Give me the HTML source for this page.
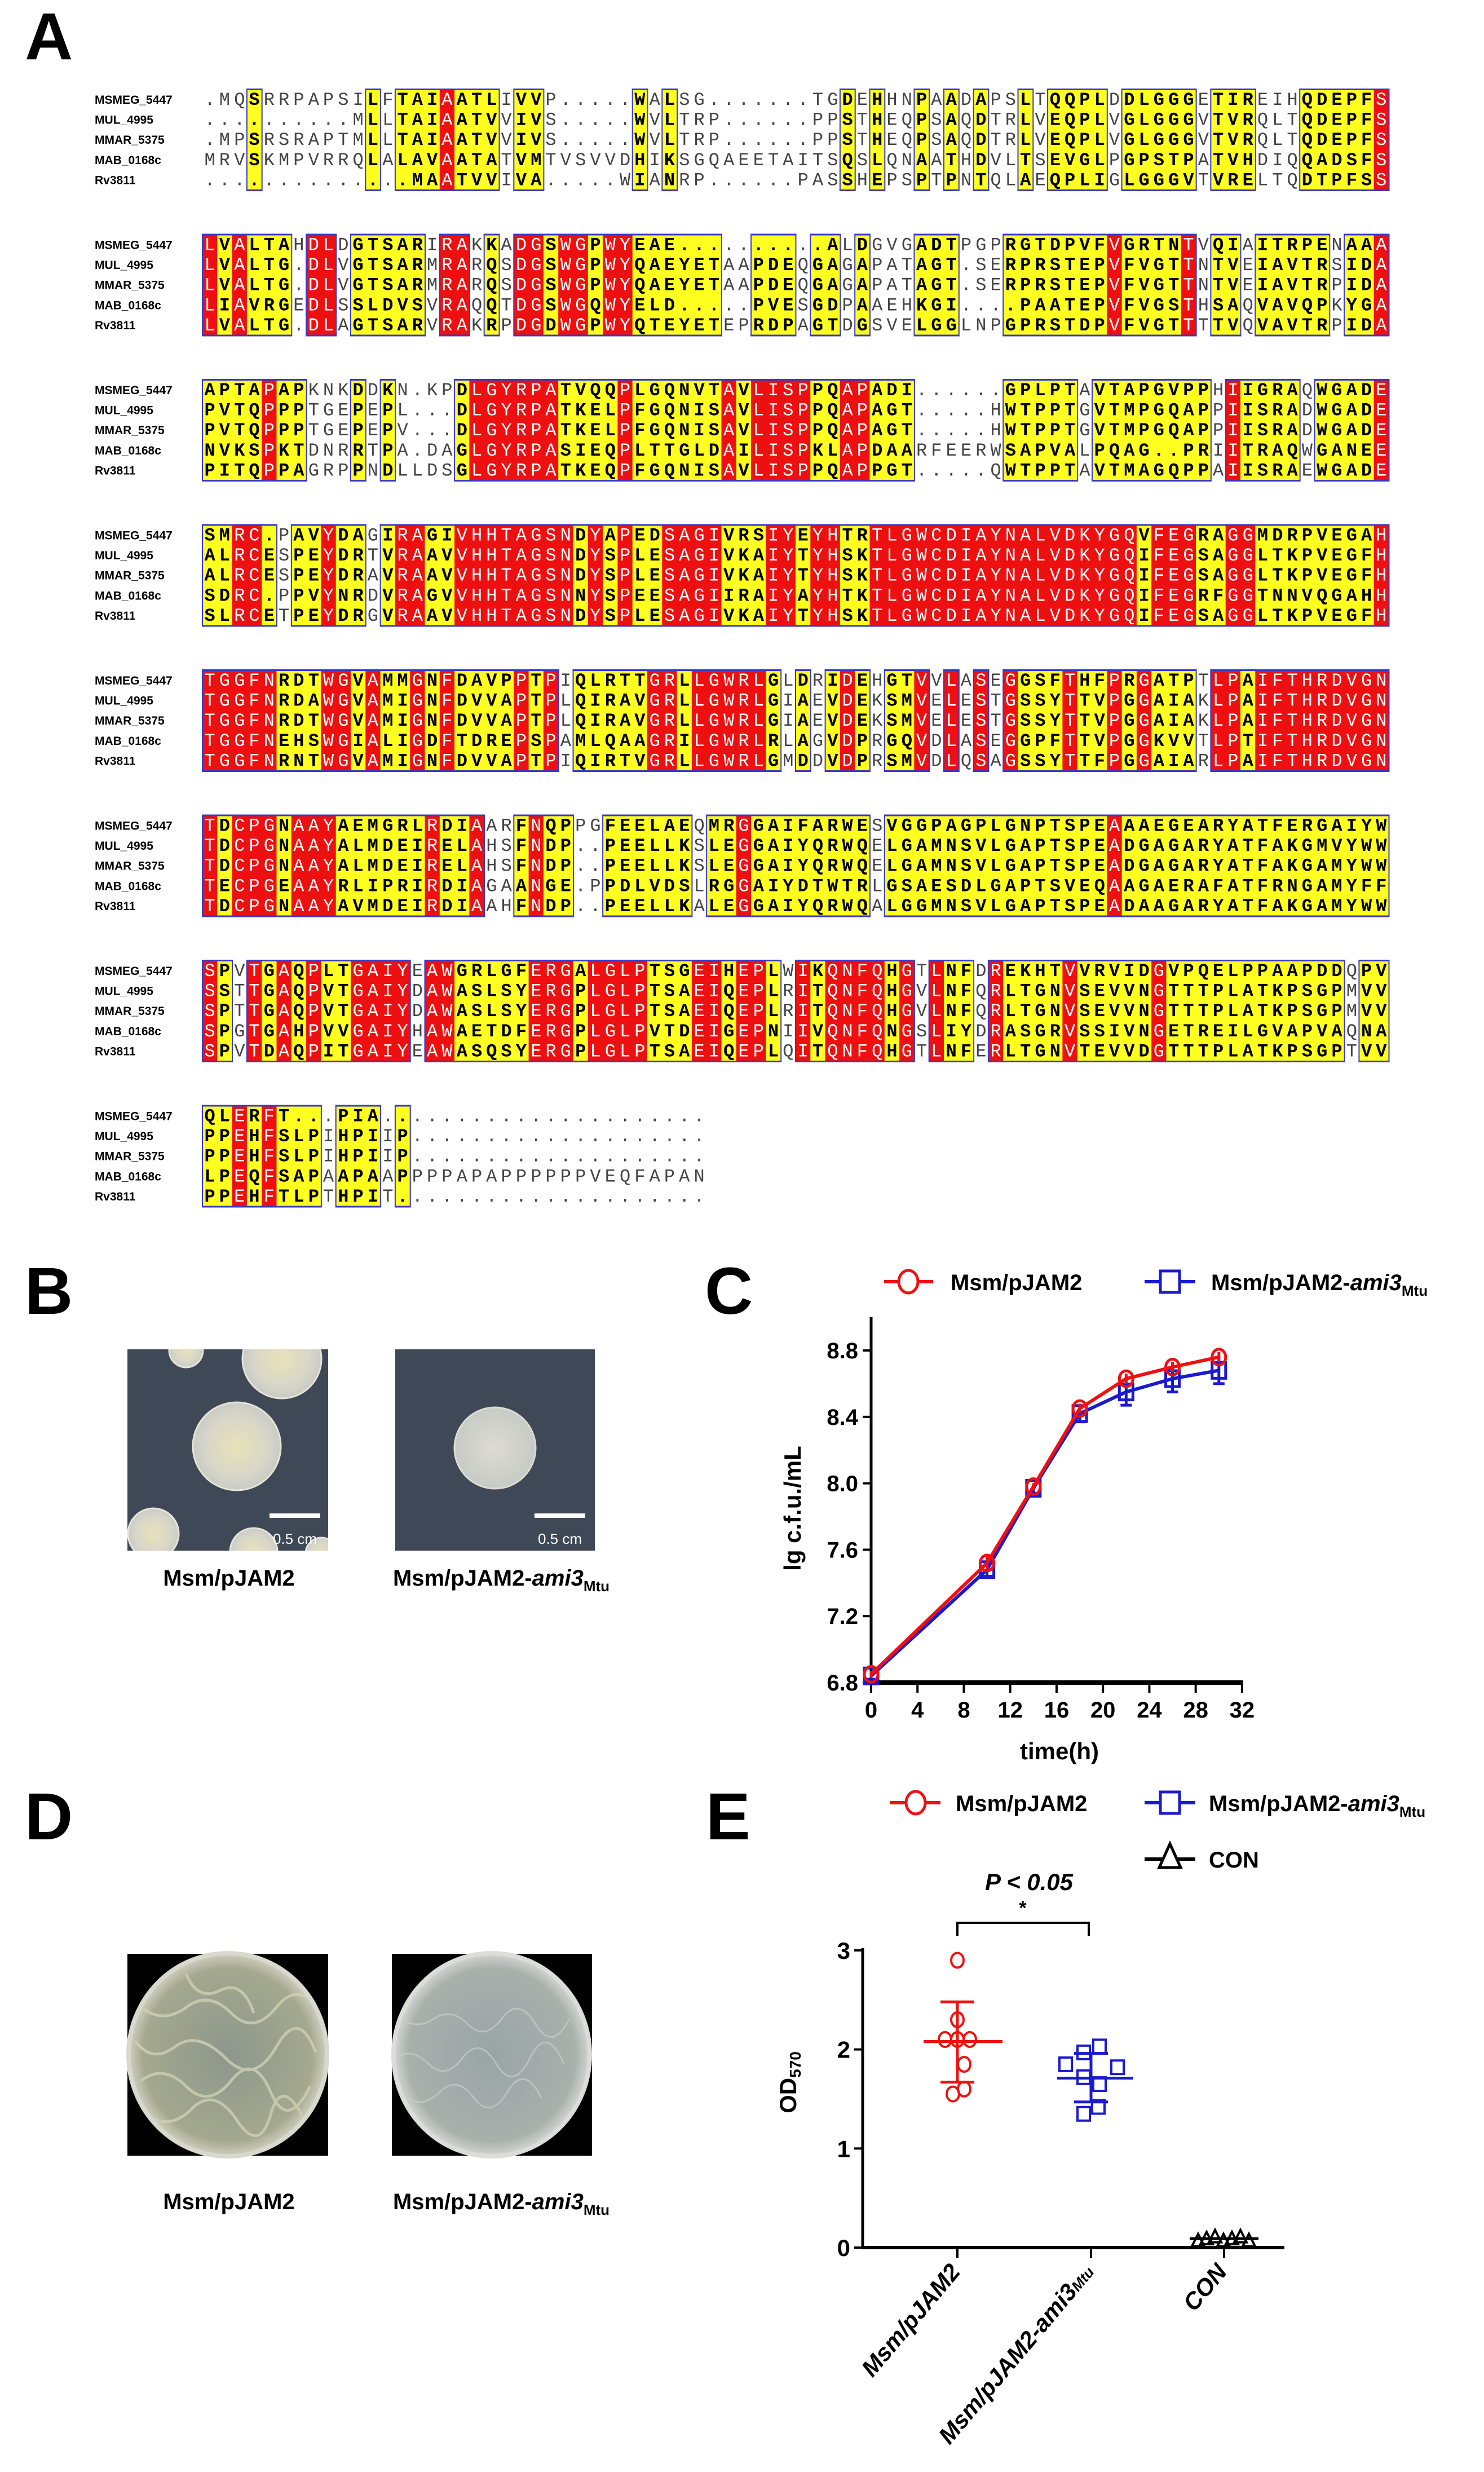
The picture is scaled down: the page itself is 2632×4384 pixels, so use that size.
<!DOCTYPE html>
<html><head><meta charset="utf-8">
<style>
html,body{margin:0;padding:0;background:#fff;}
svg{display:block;}
</style></head>
<body>
<svg id="s" xmlns="http://www.w3.org/2000/svg" width="2632" height="4384" viewBox="0 0 2632 4384" font-family="Liberation Sans, Arial, sans-serif">
<defs>
<radialGradient id="col1" cx="50%" cy="50%" r="50%"><stop offset="0" stop-color="#e8e2b8"/><stop offset="0.7" stop-color="#d8d6c8"/><stop offset="1" stop-color="#c9cbc6"/></radialGradient>
<radialGradient id="col2" cx="50%" cy="50%" r="50%"><stop offset="0" stop-color="#dcdcd0"/><stop offset="1" stop-color="#c8cac6"/></radialGradient>
<radialGradient id="dish1" cx="50%" cy="50%" r="50%"><stop offset="0" stop-color="#8d978c"/><stop offset="0.85" stop-color="#a4a88e"/><stop offset="1" stop-color="#cfcfc0"/></radialGradient>
<radialGradient id="dish2" cx="50%" cy="50%" r="50%"><stop offset="0" stop-color="#99a4a4"/><stop offset="0.85" stop-color="#a8b0ac"/><stop offset="1" stop-color="#d4d6d2"/></radialGradient>
<clipPath id="cb1"><rect x="226" y="2393" width="356" height="357"/></clipPath>
<clipPath id="cb2"><rect x="701" y="2393" width="354" height="357"/></clipPath>
<clipPath id="cd1"><ellipse cx="404" cy="3644" rx="172" ry="176"/></clipPath>
<clipPath id="cd2"><ellipse cx="872" cy="3644" rx="170" ry="176"/></clipPath>
</defs>
<g id="aln"></g>

<text x="44" y="105" font-size="118" font-weight="bold">A</text>
<text x="44" y="2330" font-size="118" font-weight="bold">B</text>
<text x="1250" y="2330" font-size="118" font-weight="bold">C</text>
<text x="44" y="3262" font-size="118" font-weight="bold">D</text>
<text x="1252" y="3262" font-size="118" font-weight="bold">E</text>

<rect x="226" y="2393" width="356" height="357" fill="#3e4857"/>
<g fill="url(#col1)" stroke="#e6e4d8" stroke-width="3" clip-path="url(#cb1)">
<circle cx="420" cy="2565" r="78"/>
<circle cx="500" cy="2410" r="70"/>
<circle cx="330" cy="2395" r="30"/>
<circle cx="272" cy="2720" r="45"/>
<circle cx="450" cy="2752" r="42"/>
<circle cx="570" cy="2755" r="28"/>
</g>
<rect x="478" y="2684" width="90" height="8" fill="#fff"/>
<text x="523" y="2738" font-size="26" fill="#fff" text-anchor="middle">0.5 cm</text>
<rect x="701" y="2393" width="354" height="357" fill="#3e4857"/>
<circle cx="878" cy="2568" r="72" fill="url(#col2)" stroke="#dcdcd2" stroke-width="3" clip-path="url(#cb2)"/>
<rect x="948" y="2684" width="90" height="8" fill="#fff"/>
<text x="993" y="2738" font-size="26" fill="#fff" text-anchor="middle">0.5 cm</text>
<text x="406" y="2812" font-size="40" font-weight="bold" text-anchor="middle">Msm/pJAM2</text>
<text x="889" y="2812" font-size="40" font-weight="bold" text-anchor="middle">Msm/pJAM2-<tspan font-style="italic">ami3</tspan><tspan font-size="26" dy="10">Mtu</tspan></text>

<g id="chartC"></g>

<rect x="226" y="3465" width="356" height="358" fill="#000"/>
<ellipse cx="404" cy="3644" rx="176" ry="180" fill="url(#dish1)" stroke="#d8d8cc" stroke-width="8"/>
<g stroke="#cfd0b4" stroke-width="5" fill="none" opacity="0.8" clip-path="url(#cd1)">
<path d="M250 3560 q40 30 80 0 t80 10 t80 -10 t80 10"/>
<path d="M240 3620 q30 40 70 10 t90 20 t90 -20 t70 10"/>
<path d="M250 3690 q40 -30 80 10 t80 -10 t70 20 t70 -10"/>
<path d="M260 3750 q40 30 80 -10 t80 20 t60 -10 t60 10"/>
<path d="M330 3500 q20 50 60 30 t60 40"/>
</g>
<rect x="695" y="3465" width="355" height="358" fill="#000"/>
<ellipse cx="872" cy="3644" rx="174" ry="180" fill="url(#dish2)" stroke="#dcdcd8" stroke-width="8"/>
<g stroke="#c6ccc8" stroke-width="3" fill="none" opacity="0.7" clip-path="url(#cd2)">
<path d="M710 3580 q30 20 60 0 t60 10 t60 -10 t60 10 t60 -10"/>
<path d="M700 3650 q30 -20 60 10 t60 -10 t60 10 t60 -10 t60 10"/>
<path d="M720 3720 q30 20 60 -10 t60 10 t60 -10 t60 10"/>
</g>
<text x="406" y="3918" font-size="40" font-weight="bold" text-anchor="middle">Msm/pJAM2</text>
<text x="889" y="3918" font-size="40" font-weight="bold" text-anchor="middle">Msm/pJAM2-<tspan font-style="italic">ami3</tspan><tspan font-size="26" dy="10">Mtu</tspan></text>

<g id="chartE"></g>
</svg>
<script>
(function(){
var NS="http://www.w3.org/2000/svg";
function el(parent,tag,attrs,txt){var e=document.createElementNS(NS,tag);for(var k in attrs)e.setAttribute(k,attrs[k]);if(txt!=null)e.textContent=txt;parent.appendChild(e);return e;}
var names=["MSMEG_5447","MUL_4995","MMAR_5375","MAB_0168c","Rv3811"];
var blocks=[
[".MQSRRPAPSILFTAIAATLIVVP.....WALSG.......TGDEHHNPAADAPSLTQQPLDDLGGGETIREIHQDEPFS",
"..........MLLTAIAATVVIVS.....WVLTRP......PPSTHEQPSAQDTRLVEQPLVGLGGGVTVRQLTQDEPFS",
".MPSRSRAPTMLLTAIAATVVIVS.....WVLTRP......PPSTHEQPSAQDTRLVEQPLVGLGGGVTVRQLTQDEPFS",
"MRVSKMPVRRQLALAVAATATVMTVSVVDHIKSGQAEETAITSQSLQNAATHDVLTSEVGLPGPSTPATVHDIQQADSFS",
"..............MAATVVIVA.....WIANRP......PASSHEPSPTPNTQLAEQPLIGLGGGVTVRELTQDTPFS"],
["LVALTAHDLDGTSARIRAKKADGSWGPWYEAE..........ALDGVGADTPGPRGTDPVFVGRTNTVQIAITRPENA",
"LVALTG.DLVGTSARMRARQSDGSWGPWYQAEYETAAPDEQGAGAPATAGT.SERPRSTEPVFVGTTNTVEIAVTRSIDA",
"LVALTG.DLVGTSARMRARQSDGSWGPWYQAEYETAAPDEQGAGAPATAGT.SERPRSTEPVFVGTTNTVEIAVTRPIDA",
"LIAVRGEDLSSLDVSVRAQQTDGSWGQWYELD.....PVESGDPAAEHKGI....PAATEPVFVGSTHSAQVAVQPKYGA",
"LVALTG.DLAGTSARVRAKRPDGDWGPWYQTEYETEPRDPAGTDGSVELGGLNPGPRSTDPVFVGTTTTVQVAVTRPIDA"],
["APTAPAPKNKDDKN.KPDLGYRPATVQQPLGQNVTAVLISPPQAPADI......GPLPTAVTAPGVPPHIIGRAQWGADE",
"PVTQPPPTGEPEPL...DLGYRPATKELPFGQNISAVLISPPQAPAGT.....HWTPPTGVTMPGQAPPIISRADWGADE",
"PVTQPPPTGEPEPV...DLGYRPATKELPFGQNISAVLISPPQAPAGT.....HWTPPTGVTMPGQAPPIISRADWGADE",
"NVKSPKTDNRRTPA.DAGLGYRPASIEQPLTTGLDAILISPKLAPDAARFEERWSAPVALPQAG..PRIITRAQWGANE",
"PITQPPAGRPPNDLLDSGLGYRPATKEQPFGQNISAVLISPPQAPPGT.....QWTPPTAVTMAGQPPAIISRAEWGADE"],
["SMRC.PAVYDAGIRAGIVHHTAGSNDYAPEDSAGIVRSIYEYHTRTLGWCDIAYNALVDKYGQVFEGRAGGMDRPVEGAH",
"ALRCESPEYDRTVRAAVVHHTAGSNDYSPLESAGIVKAIYTYHSKTLGWCDIAYNALVDKYGQIFEGSAGGLTKPVEGFH",
"ALRCESPEYDRAVRAAVVHHTAGSNDYSPLESAGIVKAIYTYHSKTLGWCDIAYNALVDKYGQIFEGSAGGLTKPVEGFH",
"SDRC.PPVYNRDVRAGVVHHTAGSNNYSPEESAGIIRAIYAYHTKTLGWCDIAYNALVDKYGQIFEGRFGGTNNVQGAH",
"SLRCETPEYDRGVRAAVVHHTAGSNDYSPLESAGIVKAIYTYHSKTLGWCDIAYNALVDKYGQIFEGSAGGLTKPVEGFH"],
["TGGFNRDTWGVAMMGNFDAVPPTPIQLRTTGRLLGWRLGLDRIDEHGTVVLASEGGSFTHFPRGATPTLPAIFTHRDVGN",
"TGGFNRDAWGVAMIGNFDVVAPTPLQIRAVGRLLGWRLGIAEVDEKSMVELESTGSSYTTVPGGAIAKLPAIFTHRDVGN",
"TGGFNRDTWGVAMIGNFDVVAPTPLQIRAVGRLLGWRLGIAEVDEKSMVELESTGSSYTTVPGGAIAKLPAIFTHRDVGN",
"TGGFNEHSWGIALIGDFTDREPSPAMLQAAGRILGWRLRLAGVDPRGQVDLASEGGPFTTVPGGKVVTLPTIFTHRDVGN",
"TGGFNRNTWGVAMIGNFDVVAPTPIQIRTVGRLLGWRLGMDDVDPRSMVDLQSAGSSYTTFPGGAIARLPAIFTHRDVGN"],
["TDCPGNAAYAEMGRLRDIAARFNQPPGFEELAEQMRGGAIFARWESVGGPAGPLGNPTSPEAAAEGEARYATFERGAIYW",
"TDCPGNAAYALMDEIRELAHSFNDP..PEELLKSLEGGAIYQRWQELGAMNSVLGAPTSPEADGAGARYATFAKGMVYW",
"TDCPGNAAYALMDEIRELAHSFNDP..PEELLKSLEGGAIYQRWQELGAMNSVLGAPTSPEADGAGARYATFAKGAMYW",
"TECPGEAAYRLIPRIRDIAGAANGE.PPDLVDSLRGGAIYDTWTRLGSAESDLGAPTSVEQAAGAERAFATFRNGAMYF",
"TDCPGNAAYAVMDEIRDIAAHFNDP..PEELLKALEGGAIYQRWQALGGMNSVLGAPTSPEADAAGARYATFAKGAMYW"],
["SPVTGAQPLTGAIYEAWGRLGFERGALGLPTSGEIHEPLWIKQNFQHGTLNFDREKHTVVRVIDGVPQELPPAAPDDQPV",
"SSTTGAQPVTGAIYDAWASLSYERGPLGLPTSAEIQEPLRITQNFQHGVLNFQRLTGNVSEVVNGTTTPLATKPSGPMV",
"SPTTGAQPVTGAIYDAWASLSYERGPLGLPTSAEIQEPLRITQNFQHGVLNFQRLTGNVSEVVNGTTTPLATKPSGPMV",
"SPGTGAHPVVGAIYHAWAETDFERGPLGLPVTDEIGEPNIIVQNFQNGSLIYDRASGRVSSIVNGETREILGVAPVAQNA",
"SPVTDAQPITGAIYEAWASQSYERGPLGLPTSAEIQEPLQITQNFQHGTLNFERLTGNVTEVVDGTTTPLATKPSGPTV"],
["QLERFT...PIA......................",
"PPEHFSLPIHPIIP....................",
"PPEHFSLPIHPIIP....................",
"LPEQFSAPAAPAAPPPPAPAPPPPPPVEQFAPAN",
"PPEHFTLPTHPIT....................."]
];
var g=document.getElementById("aln");
var X0=359, CW=26.3, RH=35.6;
for(var b=0;b<8;b++){
  var top=159+257.5*b;
  var N=(b==7)?34:80;
  var rows=blocks[b].map(function(s){while(s.length<N)s+=(s.length>0&&/[A-Z]/.test(s[s.length-1])&&b!=7)?s[s.length-1]:".";return s.substring(0,N);});
  var cls=[];
  for(var c=0;c<N;c++){
    var cnt={},mx=0;
    for(var r=0;r<5;r++){var ch=rows[r][c];if(ch==".")continue;cnt[ch]=(cnt[ch]||0)+1;if(cnt[ch]>mx)mx=cnt[ch];}
    cls.push(mx==5?"r":(mx>=3?"y":""));
  }
  for(var r=0;r<5;r++){
    el(g,"text",{x:168,y:(top+r*RH+25).toFixed(1),"font-size":21,"font-weight":"bold",fill:"#000"},names[r]);
  }
  for(var c=0;c<N;c++){
    var x=X0+c*CW;
    if(cls[c]){
      el(g,"rect",{x:x.toFixed(1),y:top.toFixed(1),width:(CW+0.6).toFixed(1),height:(5*RH).toFixed(1),fill:cls[c]=="r"?"#ee1010":"#ffff20"});
      el(g,"rect",{x:x.toFixed(1),y:(top-2).toFixed(1),width:(CW+0.6).toFixed(1),height:3,fill:"#3838c8"});
      el(g,"rect",{x:x.toFixed(1),y:(top+5*RH-1).toFixed(1),width:(CW+0.6).toFixed(1),height:3,fill:"#3838c8"});
      if(c==0||!cls[c-1])el(g,"rect",{x:(x-1).toFixed(1),y:(top-2).toFixed(1),width:2,height:(5*RH+4).toFixed(1),fill:"#3838c8"});
      if(c==N-1||!cls[c+1])el(g,"rect",{x:(x+CW-0.5).toFixed(1),y:(top-2).toFixed(1),width:2,height:(5*RH+4).toFixed(1),fill:"#3838c8"});
    }
  }
  for(var r=0;r<5;r++){
    for(var c=0;c<N;c++){
      var ch=rows[r][c];var k=cls[c];
      var a={x:(X0+c*CW+CW/2).toFixed(1),y:(top+r*RH+27).toFixed(1),"font-family":"Liberation Mono, monospace","font-size":32,"text-anchor":"middle"};
      if(k=="r"){a.fill="#fff";}
      else if(k=="y"){a.fill="#000";a["font-weight"]="bold";}
      else a.fill="#444";
      el(g,"text",a,ch);
    }
  }
}

var C=document.getElementById("chartC");
function cx(t){return 1545+t*20.56;}
function cy(v){return 2984-(v-6.8)/0.4*117.8;}
el(C,"line",{x1:1545,y1:2336,x2:1545,y2:2987,stroke:"#000","stroke-width":5});
el(C,"line",{x1:1543,y1:2984,x2:2205,y2:2984,stroke:"#000","stroke-width":8});
[6.8,7.2,7.6,8.0,8.4,8.8].forEach(function(v){el(C,"line",{x1:1530,y1:cy(v),x2:1545,y2:cy(v),stroke:"#000","stroke-width":4});
el(C,"text",{x:1522,y:cy(v)+14,"font-size":40,"font-weight":"bold","text-anchor":"end"},v.toFixed(1));});
for(var t=0;t<=32;t+=4){el(C,"line",{x1:cx(t),y1:2984,x2:cx(t),y2:3002,stroke:"#000","stroke-width":4});
el(C,"text",{x:cx(t),y:3046,"font-size":40,"font-weight":"bold","text-anchor":"middle"},String(t));}
el(C,"text",{x:1879,y:3120,"font-size":42,"font-weight":"bold","text-anchor":"middle"},"time(h)");
el(C,"text",{x:1420,y:2675,"font-size":42,"font-weight":"bold","text-anchor":"middle",transform:"rotate(-90 1420 2675)"},"lg c.f.u./mL");
var T=[0,10,14,18,22,26,30];
var R=[6.85,7.52,7.98,8.45,8.63,8.70,8.76];
var B=[6.84,7.48,7.97,8.42,8.55,8.63,8.68];
var Be=[0.02,0.04,0.03,0.05,0.08,0.08,0.08];
var Re=[0.02,0.04,0.02,0.03,0.03,0.03,0.03];
el(C,"polyline",{points:T.map(function(t,i){return cx(t)+","+cy(B[i]);}).join(" "),fill:"none",stroke:"#1a1ad0","stroke-width":6});
T.forEach(function(t,i){
 el(C,"line",{x1:cx(t),y1:cy(B[i]-Be[i]),x2:cx(t),y2:cy(B[i]+Be[i]),stroke:"#1a1ad0","stroke-width":5});
 el(C,"line",{x1:cx(t)-10,y1:cy(B[i]-Be[i]),x2:cx(t)+10,y2:cy(B[i]-Be[i]),stroke:"#1a1ad0","stroke-width":5});
 el(C,"rect",{x:cx(t)-12,y:cy(B[i])-14,width:24,height:28,fill:"none",stroke:"#1a1ad0","stroke-width":5});
});
el(C,"polyline",{points:T.map(function(t,i){return cx(t)+","+cy(R[i]);}).join(" "),fill:"none",stroke:"#ee1111","stroke-width":6});
T.forEach(function(t,i){
 el(C,"line",{x1:cx(t),y1:cy(R[i]-Re[i]),x2:cx(t),y2:cy(R[i]+Re[i]),stroke:"#ee1111","stroke-width":5});
 el(C,"ellipse",{cx:cx(t),cy:cy(R[i]),rx:12,ry:14,fill:"none",stroke:"#ee1111","stroke-width":5});
});
el(C,"line",{x1:1568,y1:2273,x2:1655,y2:2273,stroke:"#ee1111","stroke-width":6});
el(C,"ellipse",{cx:1611,cy:2273,rx:17,ry:20,fill:"#fff",stroke:"#ee1111","stroke-width":5});
el(C,"text",{x:1686,y:2288,"font-size":40,"font-weight":"bold"},"Msm/pJAM2");
el(C,"line",{x1:2030,y1:2273,x2:2120,y2:2273,stroke:"#1a1ad0","stroke-width":6});
el(C,"rect",{x:2058,y:2254,width:34,height:38,fill:"#fff",stroke:"#1a1ad0","stroke-width":5});
var tl=el(C,"text",{x:2148,y:2288,"font-size":40,"font-weight":"bold"});
tl.innerHTML='Msm/pJAM2-<tspan font-style="italic">ami3</tspan><tspan font-size="26" dy="10">Mtu</tspan>';

var E=document.getElementById("chartE");
function ey(v){return 3986-v*175.7;}
el(E,"line",{x1:1530,y1:3455,x2:1530,y2:3988,stroke:"#000","stroke-width":5});
el(E,"line",{x1:1528,y1:3986,x2:2278,y2:3986,stroke:"#000","stroke-width":6});
[0,1,2,3].forEach(function(v){el(E,"line",{x1:1515,y1:ey(v),x2:1530,y2:ey(v),stroke:"#000","stroke-width":4});
el(E,"text",{x:1508,y:ey(v)+15,"font-size":42,"font-weight":"bold","text-anchor":"end"},String(v));});
[1698,1935,2171].forEach(function(x){el(E,"line",{x1:x,y1:3986,x2:x,y2:4004,stroke:"#000","stroke-width":4});});
var ol=el(E,"text",{x:1412,y:3693,"font-size":42,"font-weight":"bold","text-anchor":"middle",transform:"rotate(-90 1412 3693)"});
ol.innerHTML='OD<tspan font-size="28" dy="8">570</tspan>';
var rp=[[1698,2.9],[1698,2.3],[1676,2.1],[1698,2.1],[1720,2.1],[1710,1.85],[1710,1.6],[1690,1.55]];
rp.forEach(function(p){el(E,"ellipse",{cx:p[0],cy:ey(p[1]),rx:11,ry:13,fill:"none",stroke:"#ee1111","stroke-width":4});});
el(E,"line",{x1:1698,y1:ey(2.48),x2:1698,y2:ey(1.67),stroke:"#ee1111","stroke-width":5});
el(E,"line",{x1:1638,y1:ey(2.08),x2:1778,y2:ey(2.08),stroke:"#ee1111","stroke-width":5});
el(E,"line",{x1:1668,y1:ey(2.48),x2:1728,y2:ey(2.48),stroke:"#ee1111","stroke-width":5});
el(E,"line",{x1:1668,y1:ey(1.67),x2:1728,y2:ey(1.67),stroke:"#ee1111","stroke-width":5});
var bp=[[1950,2.03],[1922,1.97],[1890,1.85],[1982,1.82],[1922,1.72],[1950,1.65],[1948,1.42],[1922,1.35]];
bp.forEach(function(p){el(E,"rect",{x:p[0]-11,y:ey(p[1])-12,width:22,height:24,fill:"none",stroke:"#1a1ad0","stroke-width":4});});
el(E,"line",{x1:1935,y1:ey(1.96),x2:1935,y2:ey(1.47),stroke:"#1a1ad0","stroke-width":5});
el(E,"line",{x1:1875,y1:ey(1.71),x2:2010,y2:ey(1.71),stroke:"#1a1ad0","stroke-width":5});
el(E,"line",{x1:1905,y1:ey(1.96),x2:1965,y2:ey(1.96),stroke:"#1a1ad0","stroke-width":5});
el(E,"line",{x1:1905,y1:ey(1.47),x2:1965,y2:ey(1.47),stroke:"#1a1ad0","stroke-width":5});
[2125,2140,2155,2170,2185,2200,2215].forEach(function(x,i){var v=0.07+(i%3)*0.02;var y=ey(v);
el(E,"path",{d:"M"+(x-11)+" "+(y+10)+" L"+x+" "+(y-12)+" L"+(x+11)+" "+(y+10)+" Z",fill:"none",stroke:"#000","stroke-width":4});});
el(E,"line",{x1:2110,y1:ey(0.09),x2:2232,y2:ey(0.09),stroke:"#000","stroke-width":5});
el(E,"path",{d:"M1698 3433 L1698 3410 L1931 3410 L1931 3433",fill:"none",stroke:"#000","stroke-width":4});
el(E,"text",{x:1825,y:3352,"font-size":42,"font-weight":"bold","font-style":"italic","text-anchor":"middle"},"P < 0.05");
el(E,"text",{x:1814,y:3395,"font-size":34,"font-weight":"bold","text-anchor":"middle"},"*");
var labs=[[1705,4030,'Msm/pJAM2'],[1942,4030,'Msm/pJAM2-ami3<tspan font-size="26" font-style="italic">Mtu</tspan>'],[2178,4030,'CON']];
labs.forEach(function(L){var t=el(E,"text",{x:L[0],y:L[1],"font-size":42,"font-weight":"bold","font-style":"italic","text-anchor":"end",transform:"rotate(-50 "+L[0]+" "+L[1]+")"});t.innerHTML=L[2];});
el(E,"line",{x1:1578,y1:3197,x2:1668,y2:3197,stroke:"#ee1111","stroke-width":6});
el(E,"ellipse",{cx:1624,cy:3197,rx:17,ry:20,fill:"#fff",stroke:"#ee1111","stroke-width":5});
el(E,"text",{x:1695,y:3212,"font-size":40,"font-weight":"bold"},"Msm/pJAM2");
el(E,"line",{x1:2030,y1:3197,x2:2120,y2:3197,stroke:"#1a1ad0","stroke-width":6});
el(E,"rect",{x:2058,y:3178,width:34,height:38,fill:"#fff",stroke:"#1a1ad0","stroke-width":5});
var t2=el(E,"text",{x:2144,y:3212,"font-size":40,"font-weight":"bold"});
t2.innerHTML='Msm/pJAM2-<tspan font-style="italic">ami3</tspan><tspan font-size="26" dy="10">Mtu</tspan>';
el(E,"line",{x1:2030,y1:3297,x2:2120,y2:3297,stroke:"#000","stroke-width":6});
el(E,"path",{d:"M2056 3312 L2075 3270 L2094 3312 Z",fill:"#fff",stroke:"#000","stroke-width":5});
el(E,"text",{x:2144,y:3312,"font-size":40,"font-weight":"bold"},"CON");
})();
</script>
</body></html>
